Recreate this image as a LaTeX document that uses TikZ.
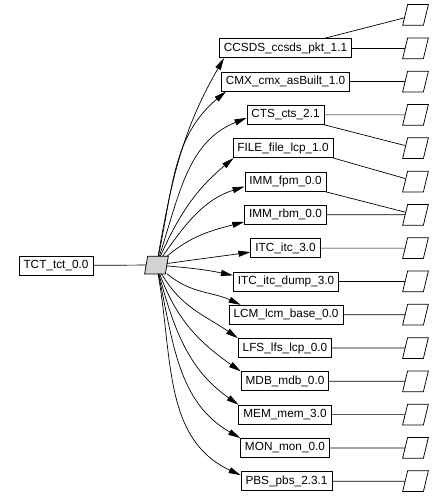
\documentclass[tikz,border=0pt]{standalone}
\usepackage{fontspec}
\setmainfont{Liberation Sans}
\usetikzlibrary{arrows.meta}
\definecolor{hubgray}{RGB}{211,211,211}
\begin{document}
\begin{tikzpicture}[x=1pt,y=1pt,line width=0.75pt,
  box/.style={draw, rectangle, inner xsep=4.5pt, inner ysep=0pt, minimum height=19pt, font=\fontsize{11.8}{13}\selectfont},
  para/.style={rectangle, minimum width=20pt, minimum height=20pt, inner sep=0pt},
  hubst/.style={rectangle, minimum width=20pt, minimum height=17pt, inner sep=0pt},
  dep/.style={-{Triangle[length=12pt,width=6pt]}, line width=0.7pt},
  lnk/.style={line width=0.7pt}
]
\useasboundingbox (0,0) rectangle (444,-497);

\node[box] (tct) at (56,-265.5) {TCT\_tct\_0.0};
\node[hubst] (hub) at (156.5,-265) {};
\draw[fill=hubgray] ([xshift=1.5pt]hub.north west) -- ([xshift=1.5pt]hub.north east)
  -- ([xshift=-1.5pt]hub.south east) -- ([xshift=-1.5pt]hub.south west) -- cycle;

\foreach \k in {0,...,14} {
  \node[para] (p\k) at (415.5,{-(15+33.3*\k)}) {};
  \draw ([xshift=2.5pt]p\k.north west) -- ([xshift=2.5pt]p\k.north east)
    -- ([xshift=-2.5pt]p\k.south east) -- ([xshift=-2.5pt]p\k.south west) -- cycle;
}

\node[box] (m0)  at (285.5,-48.3)  {CCSDS\_ccsds\_pkt\_1.1};
\node[box] (m1)  at (285.5,-81.6)  {CMX\_cmx\_asBuilt\_1.0};
\node[box] (m2)  at (285.5,-114.9) {CTS\_cts\_2.1};
\node[box] (m3)  at (283,-148.2)   {FILE\_file\_lcp\_1.0};
\node[box] (m4)  at (285.5,-181.5) {IMM\_fpm\_0.0};
\node[box] (m5)  at (285.5,-214.8) {IMM\_rbm\_0.0};
\node[box] (m6)  at (285.5,-248.1) {ITC\_itc\_3.0};
\node[box] (m7)  at (286,-281.4)   {ITC\_itc\_dump\_3.0};
\node[box] (m8)  at (286,-314.7)   {LCM\_lcm\_base\_0.0};
\node[box] (m9)  at (285,-348.0)   {LFS\_lfs\_lcp\_0.0};
\node[box] (m10) at (285,-381.3)   {MDB\_mdb\_0.0};
\node[box] (m11) at (285,-414.6)   {MEM\_mem\_3.0};
\node[box] (m12) at (285,-447.9)   {MON\_mon\_0.0};
\node[box] (m13) at (286.5,-481.2) {PBS\_pbs\_2.3.1};

\draw[lnk] (tct) -- (hub);

\draw[dep] (hub) to[out=80,in=-120] ([xshift=5pt]m0.south west);
\draw[dep] (hub) to[out=78,in=-140] ([xshift=5pt]m1.south west);
\draw[dep] (hub) to[out=72,in=-158] ([yshift=-3pt]m2.west);
\draw[dep] (hub) to[out=66,in=-140] ([xshift=1pt]m3.south west);
\draw[dep] (hub) to[out=55,in=-162] ([yshift=-5pt]m4.west);
\draw[dep] (hub) to[out=40,in=-165] ([yshift=-7pt]m5.west);
\draw[dep] (hub) to[out=8,in=-172] ([yshift=-4pt]m6.west);
\draw[dep] (hub) to[out=-5,in=168] ([yshift=6pt]m7.west);
\draw[dep] (hub) to[out=-40,in=155] ([xshift=12pt]m8.north west);
\draw[dep] (hub) to[out=-60,in=145] (m9.north west);
\draw[dep] (hub) to[out=-70,in=145] (m10.north west);
\draw[dep] (hub) to[out=-75,in=145] (m11.north west);
\draw[dep] (hub) to[out=-78,in=150] (m12.north west);
\draw[dep] (hub) to[out=-80,in=155] ([yshift=6pt]m13.west);

\draw[lnk] (m0) -- (p0);
\draw[lnk] (m0) -- (p1);
\draw[lnk] (m1) -- (p2);
\draw[lnk] (m2) -- (p3);
\draw[lnk] (m2) -- (p4);
\draw[lnk] (m3.south east) -- (p5);
\draw[lnk] (m4) -- (p6);
\draw[lnk] (m5) -- (p6);
\draw[lnk] (m6) -- (p7);
\draw[lnk] (m7) -- (p8);
\draw[lnk] (m8) -- (p9);
\draw[lnk] (m9) -- (p10);
\draw[lnk] (m10) -- (p11);
\draw[lnk] (m11) -- (p12);
\draw[lnk] (m12) -- (p13);
\draw[lnk] (m13) -- (p14);
\end{tikzpicture}
\end{document}
